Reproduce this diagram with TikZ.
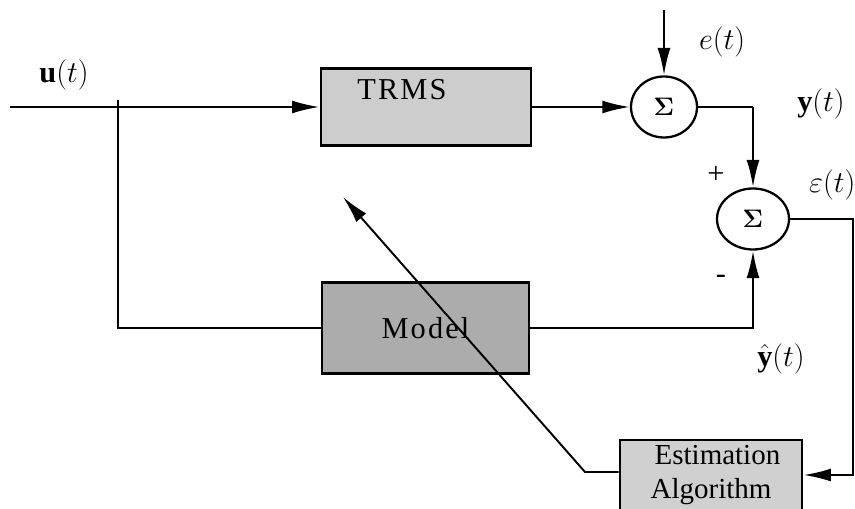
\documentclass[tikz,border=0pt]{standalone}
\usepackage{fontspec}
\usepackage{amsmath}
\usepackage{amssymb}
\usepackage{xcolor}
\setmainfont{Liberation Serif}
\definecolor{plantgray}{RGB}{205, 205, 205}
\definecolor{modelgray}{RGB}{172, 172, 172}
\definecolor{estimgray}{RGB}{208, 208, 208}
\usetikzlibrary{shapes.geometric,arrows.meta,positioning,calc}

\begin{document}
\begin{tikzpicture}[
    every node/.style={align=center},
    blockbox/.style={draw, line width=1.6pt, inner sep=0pt},
    sumnode/.style={ellipse, draw, line width=1.3pt, minimum width=1.32cm, minimum height=1.22cm, font=\Large},
    signal/.style={-{Latex[length=5.5mm,width=2.6mm]}, line width=1.3pt},
    wire/.style={line width=1.3pt},
    thinwire/.style={line width=0.6pt},
    lab/.style={font=\LARGE}
]
    \useasboundingbox (0,0) rectangle (17.1,10.16);

    % Blocks
    \node[blockbox, fill=plantgray, minimum width=4.2cm, minimum height=1.54cm,
          label={[font=\LARGE, xshift=-0.48cm, yshift=-0.78cm]north:T\kern1.2pt R\kern1.2pt M\kern1.2pt S}] (trms) at (8.52,8.02) {};
    \node[blockbox, fill=modelgray, minimum width=4.14cm, minimum height=1.82cm, font=\LARGE] (model) at (8.51,3.6) {M\kern1.2pt o\kern1.2pt d\kern1.2pt e\kern1.2pt l};
    \node[blockbox, fill=estimgray, minimum width=3.64cm, minimum height=1.4cm, font=\fontsize{16.5}{19.5}\selectfont, align=center] (estim) at (14.22,0.66) {\;\,Estimation\\Algorithm};

    % Summing junctions
    \node[sumnode] (sum1) at (13.28,8.02) {$\boldsymbol{\Sigma}$};
    \node[sumnode, minimum width=1.44cm] (sum2) at (15.06,5.78) {$\boldsymbol{\Sigma}$};

    % Helper points
    \coordinate (uin) at (0.2,8.02);
    \coordinate (ubranch) at (2.36,8.02);
    \coordinate (etop) at (13.28,9.96);
    \coordinate (ycorner) at (15.06,8.02);
    \coordinate (eright) at (17.06,5.78);
    \coordinate (eloop) at (11.7,0.72);
    \coordinate (tunetip) at (6.86,6.22);

    % Signal labels
    \node[lab] (ulab) at (1.28,8.66) {$\mathbf{u}(t)$};
    \node[lab] (elab) at (14.44,9.32) {$e(t)$};
    \node[lab] (ylab) at (16.42,8.08) {$\mathbf{y}(t)$};
    \node[lab, anchor=west] (epslab) at (16.06,6.46) {$\varepsilon(t)$};
    \node[font=\LARGE] (plus) at (14.32,6.66) {+};
    \node[font=\LARGE] (minus) at (14.42,4.58) {-};
    \node[lab] (yhatlab) at (15.62,2.98) {$\hat{\mathbf{y}}(t)$};

    % Forward path
    \draw[signal] (uin) -- (trms.west);
    \draw[signal] (trms.east) -- (sum1.west);
    \draw[signal] (etop) -- (sum1.north);
    \draw[thinwire] (sum1.east) -- (ycorner);
    \draw[signal] (ycorner) -- (sum2.north);

    % Model path
    \draw[thinwire] ([yshift=0.14cm]ubranch) |- (model.west);
    \draw[signal] (model.east) -| (sum2.south);

    % Estimation loop
    \draw[signal] (sum2.east) -- (eright) |- (estim.east);
    \draw[signal, line width=1.1pt] (estim.west |- eloop) -- (eloop) -- (tunetip);
\end{tikzpicture}
\end{document}
